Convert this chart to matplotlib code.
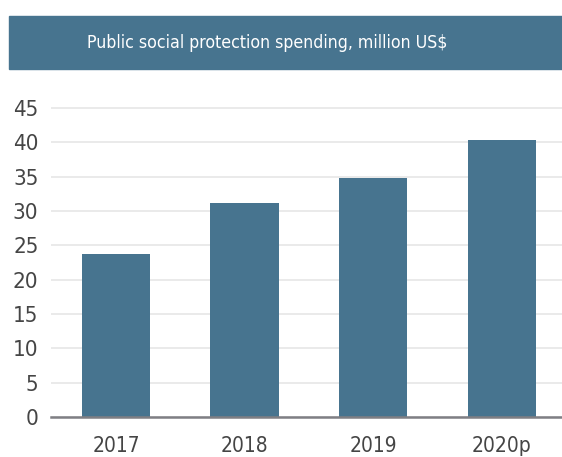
import matplotlib
matplotlib.use("Agg")
import matplotlib.pyplot as plt
from matplotlib import font_manager as fm
from matplotlib.patches import Rectangle

# Data
years = ["2017", "2018", "2019", "2020p"]
spending = [23.7, 31.1, 34.8, 40.3]
y_ticks = [0, 5, 10, 15, 20, 25, 30, 35, 40, 45]
title = "Public social protection spending, million US$"

BAR = "#47748f"
GRID = "#e8e8e8"
AXIS = "#7f7f84"
LABEL = "#454545"

# Pick a narrow face if one is installed
fonts = {(f.name, f.stretch) for f in fm.fontManager.ttflist}
if any(n == "Liberation Sans Narrow" for n, _ in fonts):
    FONT = dict(family="Liberation Sans Narrow")
elif ("DejaVu Sans", "condensed") in fonts:
    FONT = dict(family="DejaVu Sans", stretch="condensed")
else:
    FONT = dict(family="DejaVu Sans")

W, H = 562, 457
fig = plt.figure(figsize=(W / 100, H / 100), dpi=100)

# Title banner
fig.patches.append(Rectangle((9 / W, 1 - 69 / H), 1 - 9 / W, 53 / H,
                             transform=fig.transFigure, color=BAR, zorder=0))
fig.text(267.5 / W, 1 - 43 / H, title, color="white", ha="center", va="center",
         fontsize=12.7, **FONT)

# Plot area
px_per_unit = (417 - 108) / 45
ytop = 46.5
top_px = 417 - ytop * px_per_unit
ax = fig.add_axes([51 / W, (H - 417) / H, 1 - 51 / W, (417 - top_px) / H])
x = range(len(years))
ax.bar(x, spending, width=0.53, color=BAR, zorder=2)

ax.set_xlim(-0.506, 3.47)
ax.set_ylim(0, ytop)
ax.set_yticks(y_ticks)
ax.set_xticks(list(x))
ax.set_xticklabels(years)
ax.yaxis.grid(True, color=GRID, linewidth=1.3, zorder=0)
ax.set_axisbelow(True)

for side in ("top", "right", "left"):
    ax.spines[side].set_visible(False)
ax.spines["bottom"].set_color(AXIS)
ax.spines["bottom"].set_linewidth(1.8)
ax.spines["bottom"].set_zorder(3)

ax.tick_params(axis="both", length=0, colors=LABEL)
ax.tick_params(axis="y", pad=9)
ax.tick_params(axis="x", pad=14)
for lab in ax.get_yticklabels():
    lab.set_fontsize(16)
for lab in ax.get_xticklabels():
    lab.set_fontsize(15)
for lab in ax.get_xticklabels() + ax.get_yticklabels():
    lab.set_family(FONT["family"])
    if "stretch" in FONT:
        lab.set_stretch(FONT["stretch"])

fig.savefig("out.png", dpi=100)
